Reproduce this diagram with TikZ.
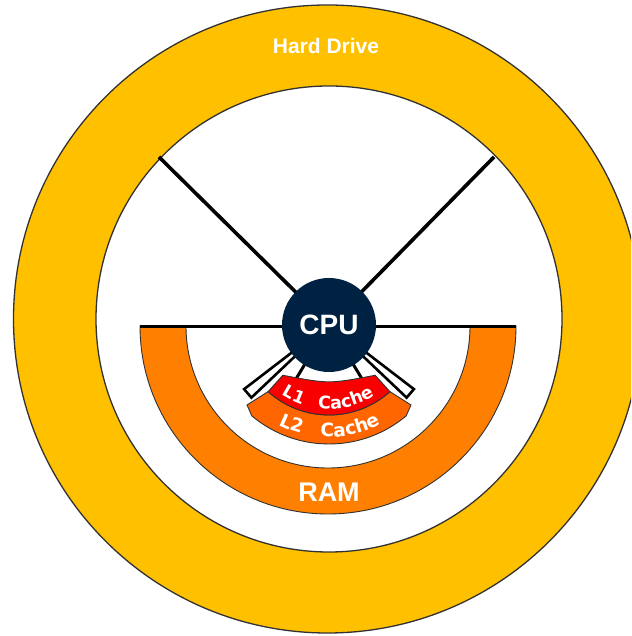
\documentclass[tikz,border=0pt]{standalone}
\usepackage{fontspec}
\setmainfont{Liberation Sans}
\newfontfamily\cachefont{DejaVu Sans}
\usetikzlibrary{decorations.text}
\definecolor{hdyellow}{RGB}{255,192,0}
\definecolor{ramorange}{RGB}{255,128,0}
\definecolor{ltwocol}{RGB}{255,102,0}
\definecolor{lonecol}{RGB}{248,0,0}
\definecolor{cpublue}{RGB}{0,34,66}
\definecolor{edgegray}{RGB}{50,50,50}
\pgfdeclarelayer{rings}
\pgfdeclarelayer{wires}
\pgfdeclarelayer{caches}
\pgfsetlayers{rings,wires,caches,main}
\begin{document}
\begin{tikzpicture}[x=1pt,y=1pt,
  ringline/.style={draw=edgegray, line width=1.3pt},
  thinedge/.style={draw=edgegray, line width=0.9pt},
  busline/.style={draw=black, line width=3.6pt, line cap=butt},
  pipeline/.style={draw=black, fill=white, line width=2.6pt, line join=miter},
  cpunode/.style={circle, fill=cpublue, minimum size=94pt, inner sep=0pt, text=white,
    font=\bfseries\fontsize{28}{28}\selectfont},
  bigtext/.style={text=white, inner sep=0pt, font=\bfseries\fontsize{27}{27}\selectfont},
  hdtext/.style={text=white, inner sep=0pt, font=\bfseries\fontsize{21}{21}\selectfont}]
\useasboundingbox (0,0) rectangle (631,636);

% named points
\coordinate (hdc) at (327.5,317);
\coordinate (inc) at (329,317);
\coordinate (cc) at (329,312);
\coordinate (hdNW) at (159,479);
\coordinate (hdNE) at (494,479);
\coordinate (ramL) at (140,309);
\coordinate (ramR) at (516,309);

% CPU and labels
\node[cpunode] (cpu) at (329,311) {CPU};
\node[hdtext] (hd) at (326,590) {Hard Drive};
\node[bigtext] (ram) at (329,144) {RAM};

\begin{pgfonlayer}{rings}
  \begin{scope}
  \clip (0,0) rectangle (631,636);
  \fill[white] (0,0) rectangle (631,636);
  \filldraw[ringline, fill=hdyellow] (hdc) circle[radius=314];
  \filldraw[ringline, fill=white] (inc) circle[radius=233];
  \begin{scope}[shift={(328,310)}]
    \filldraw[thinedge, fill=ramorange] (-188,0) arc[start angle=180,end angle=360,radius=188]
      -- (142,0) arc[start angle=0,end angle=-180,radius=142] -- cycle;
  \end{scope}
  \end{scope}
\end{pgfonlayer}

\begin{pgfonlayer}{wires}
  \draw[busline] (hdNW) -- (cpu.center);
  \draw[busline] (hdNE) -- (cpu.center);
  \draw[busline, line width=3pt] (ramL) -- (ramR);
  \begin{scope}[shift={(cc)}]
    \filldraw[pipeline] (217.5:40) -- (217.5:107) -- (223.5:107) -- (223.5:40) -- cycle;
    \filldraw[pipeline] (322.5:40) -- (322.5:107) -- (316.5:107) -- (316.5:40) -- cycle;
    \draw[busline, line width=3pt] (239:40) -- (239:68);
    \draw[busline, line width=3pt] (301:40) -- (301:68);
  \end{scope}
\end{pgfonlayer}

\begin{pgfonlayer}{caches}
  \begin{scope}[shift={(cc)}]
    % L2 cache
    \filldraw[thinedge, fill=ltwocol] (-82,-81) -- (228:91)
      arc[start angle=228,end angle=312,radius=91] -- (82,-81) -- (310:120)
      arc[start angle=310,end angle=230,radius=120] -- cycle;
    % L1 cache
    \filldraw[thinedge, fill=lonecol] (228:91) arc[start angle=228,end angle=312,radius=91]
      -- (312:69) .. controls (0,-60) .. (228:69) -- cycle;
    % labels along arcs
    \path[decorate, decoration={text along path, text color=white, text align=center,
      text={|\cachefont\bfseries\fontsize{17}{17}\selectfont|L1}}]
      (219:85) arc[start angle=219,end angle=269,radius=85];
    \path[decorate, decoration={text along path, text color=white, text align=center,
      text={|\cachefont\bfseries\fontsize{17.5}{17.5}\selectfont|Cache}}]
      (250:85) arc[start angle=250,end angle=315,radius=85];
    \path[decorate, decoration={text along path, text color=white, text align=center,
      text={|\cachefont\bfseries\fontsize{18.5}{18.5}\selectfont|L2}}]
      (224.5:113) arc[start angle=224.5,end angle=274.5,radius=113];
    \path[decorate, decoration={text along path, text color=white, text align=center,
      text={|\cachefont\bfseries\fontsize{18.5}{18.5}\selectfont|Cache}}]
      (251.5:113) arc[start angle=251.5,end angle=311.5,radius=113];
  \end{scope}
\end{pgfonlayer}
\end{tikzpicture}
\end{document}
